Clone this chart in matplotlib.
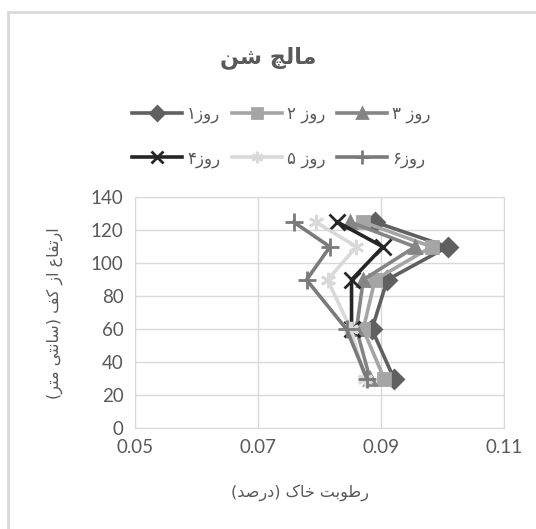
import numpy as np
import matplotlib
matplotlib.use('Agg')
import matplotlib.pyplot as plt
from matplotlib.lines import Line2D

# soil moisture (fraction) at each depth, one list per day
heights = [125, 110, 90, 60, 30]
day1 = [0.0890, 0.1008, 0.0910, 0.0885, 0.0921]
day2 = [0.0871, 0.0982, 0.0890, 0.0871, 0.0905]
day3 = [0.0850, 0.0955, 0.0871, 0.0860, 0.0882]
day4 = [0.0829, 0.0903, 0.0852, 0.0852, np.nan]
day5 = [0.0794, 0.0860, 0.0813, 0.0851, 0.0874]
day6 = [0.0758, 0.0817, 0.0779, 0.0844, 0.0877]
labels = ['روز۱', 'روز ۲', 'روز ۳', 'روز۴', 'روز ۵', 'روز۶']
title = 'مالچ شن'
xlabel = 'رطوبت خاک (درصد)'
ylabel = 'ارتفاع از کف (سانتی متر)'
xticks = [0.05, 0.07, 0.09, 0.11]
yticks = [0, 20, 40, 60, 80, 100, 120, 140]

# matplotlib has no arabic shaping, so pick presentation forms by hand
# (iso, final, initial, medial); initial None = joins only to the right
FORMS = {
    'ا': ('\uFE8D', '\uFE8E', None, None),
    'ب': ('\uFE8F', '\uFE90', '\uFE91', '\uFE92'),
    'ت': ('\uFE95', '\uFE96', '\uFE97', '\uFE98'),
    'خ': ('\uFEA5', '\uFEA6', '\uFEA7', '\uFEA8'),
    'د': ('\uFEA9', '\uFEAA', None, None),
    'ر': ('\uFEAD', '\uFEAE', None, None),
    'ز': ('\uFEAF', '\uFEB0', None, None),
    'س': ('\uFEB1', '\uFEB2', '\uFEB3', '\uFEB4'),
    'ش': ('\uFEB5', '\uFEB6', '\uFEB7', '\uFEB8'),
    'ص': ('\uFEB9', '\uFEBA', '\uFEBB', '\uFEBC'),
    'ط': ('\uFEC1', '\uFEC2', '\uFEC3', '\uFEC4'),
    'ع': ('\uFEC9', '\uFECA', '\uFECB', '\uFECC'),
    'ف': ('\uFED1', '\uFED2', '\uFED3', '\uFED4'),
    'ک': ('\uFB8E', '\uFB8F', '\uFB90', '\uFB91'),
    'ل': ('\uFEDD', '\uFEDE', '\uFEDF', '\uFEE0'),
    'م': ('\uFEE1', '\uFEE2', '\uFEE3', '\uFEE4'),
    'ن': ('\uFEE5', '\uFEE6', '\uFEE7', '\uFEE8'),
    'و': ('\uFEED', '\uFEEE', None, None),
    'ی': ('\uFBFC', '\uFBFD', '\uFBFE', '\uFBFF'),
    'چ': ('\uFB7A', '\uFB7B', '\uFB7C', '\uFB7D'),
}


def fa(text):
    out = []
    for i, c in enumerate(text):
        if c not in FORMS:
            out.append(c)
            continue
        prev = text[i - 1] if i > 0 else ''
        nxt = text[i + 1] if i + 1 < len(text) else ''
        iso, fin, ini, med = FORMS[c]
        jp = prev in FORMS and FORMS[prev][2] is not None
        jn = ini is not None and nxt in FORMS
        if jp and jn:
            out.append(med)
        elif jp:
            out.append(fin)
        elif jn:
            out.append(ini)
        else:
            out.append(iso)
    s = ''.join(out)[::-1]
    return s.translate(str.maketrans('()', ')('))


grey = '#595959'
series = [day1, day2, day3, day4, day5, day6]
colors = ['#606060', '#a5a5a5', '#858585', '#262626', '#d9d9d9', '#7a7a7a']
markers = ['D', 's', '^', 'x', (6, 2, 0), '+']
msizes = [9, 9, 9, 11, 11, 13]

fig = plt.figure(figsize=(5.36, 5.29), dpi=100)
ax = fig.add_axes([0.2513, 0.1904, 0.6896, 0.4366])

handles = []
for vals, c, m, ms, lab in zip(series, colors, markers, msizes, labels):
    h, = ax.plot(vals, heights, color=c, lw=2.6, marker=m, ms=ms,
                 mec=c, mfc=c, mew=2, label=fa(lab))
    handles.append(h)

ax.set_xlim(0.05, 0.11)
ax.set_ylim(0, 140)
ax.set_xticks(xticks)
ax.set_xticklabels([f'{v:.2f}' for v in xticks])
ax.set_yticks(yticks)
ax.grid(True, color='#d9d9d9', lw=1)
ax.set_axisbelow(True)
for sp in ax.spines.values():
    sp.set_color('#d9d9d9')
ax.tick_params(length=0, colors=grey, labelsize=13.5, pad=8)
for t in ax.get_xticklabels() + ax.get_yticklabels():
    t.set_fontfamily('Lato')

fig.text(0.5, 1 - 58 / 529, fa(title), ha='center', va='center',
         fontsize=16, fontweight='bold', color=grey, family='DejaVu Sans')
fig.text(300 / 536, 1 - 493 / 529, fa(xlabel), ha='center', va='center',
         fontsize=11.5, color=grey, family='DejaVu Sans')
fig.text(55 / 536, 1 - 313 / 529, fa(ylabel), ha='center', va='center',
         rotation=90, fontsize=11.5, color=grey, family='DejaVu Sans')

# legend filled column by column, so reorder to get rows 1-3 / 4-6
order = [0, 3, 1, 4, 2, 5]
fig.legend([handles[i] for i in order], [handles[i].get_label() for i in order],
           ncol=3, loc='center', bbox_to_anchor=(0.525, 1 - 136 / 529),
           frameon=False, numpoints=1, markerscale=0.75,
           handlelength=3.0, handletextpad=0.3,
           columnspacing=0.7, labelspacing=1.6, labelcolor=grey,
           prop={'family': 'DejaVu Sans', 'size': 12})

# chart area border (only top and left show in the crop)
fig.add_artist(Line2D([8 / 536, 8 / 536], [0, 1 - 12 / 529], color='#d9d9d9', lw=2))
fig.add_artist(Line2D([8 / 536, 1], [1 - 12 / 529, 1 - 12 / 529], color='#d9d9d9', lw=2))

fig.savefig('out.png', dpi=100)
